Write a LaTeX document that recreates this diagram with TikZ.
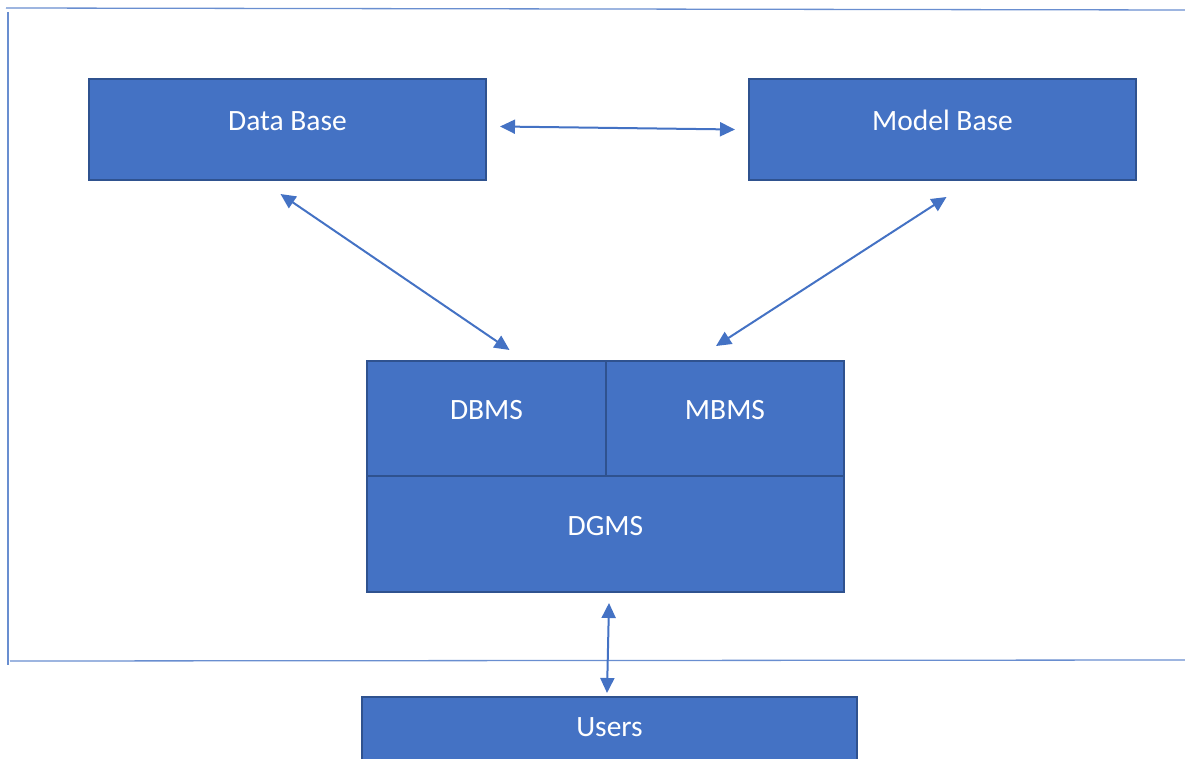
\documentclass[tikz,border=0pt]{standalone}
\usepackage{fontspec}
\setmainfont{Carlito}
\usetikzlibrary{arrows.meta,calc}
\definecolor{boxblue}{HTML}{4472C4}
\definecolor{boxedge}{HTML}{2F528F}

\begin{document}
\begin{tikzpicture}[x=1pt,y=-1pt,
  blk/.style={draw=boxedge, fill=boxblue, line width=2pt, text=white,
    font=\fontsize{29.5}{34}\selectfont, text height=19pt, text depth=17pt,
    inner sep=0pt, outer sep=0pt},
  arr/.style={draw=boxblue, line width=2pt, {Triangle[length=15pt,width=14pt]}-{Triangle[length=15pt,width=14pt]}},
  frame/.style={draw=boxblue!80, line width=1.3pt}]
\useasboundingbox (0,0) rectangle (1185,759);
\clip (0,0) rectangle (1185,759);
\draw[frame] (6,8) -- (1185,10);
\draw[frame] (8,12) -- (8,665);
\draw[frame] (10,661) -- (1185,660);
%
\node[blk, minimum width=397pt, minimum height=101pt] (db) at (287.5,129.5) {Data Base};
\node[blk, minimum width=387pt, minimum height=101pt] (mb) at (942.5,129.5) {Model Base};
\node[blk, minimum width=239pt, minimum height=115pt] (dbms) at (486.5,418.5) {DBMS};
\node[blk, minimum width=238pt, minimum height=115pt] (mbms) at (725,418.5) {MBMS};
\node[blk, minimum width=477pt, minimum height=116pt] (dgms) at (605.5,534) {DGMS};
\node[blk, minimum width=495pt, minimum height=76pt] (users) at (609.5,735) {Users};
%
\draw[arr] ($(db.east)+(14,-3)$) -- ($(mb.west)+(-14,0)$);
\draw[arr] ($(db.south)+(-7,14)$) -- ($(dbms.north)+(23,-11)$);
\draw[arr] ($(mb.south)+(4,17)$) -- ($(mbms.north)+(-9,-15)$);
\draw[arr] ($(dgms.south)+(3.5,11)$) -- ($(users.north)+(-2.5,-4)$);
\end{tikzpicture}
\end{document}
